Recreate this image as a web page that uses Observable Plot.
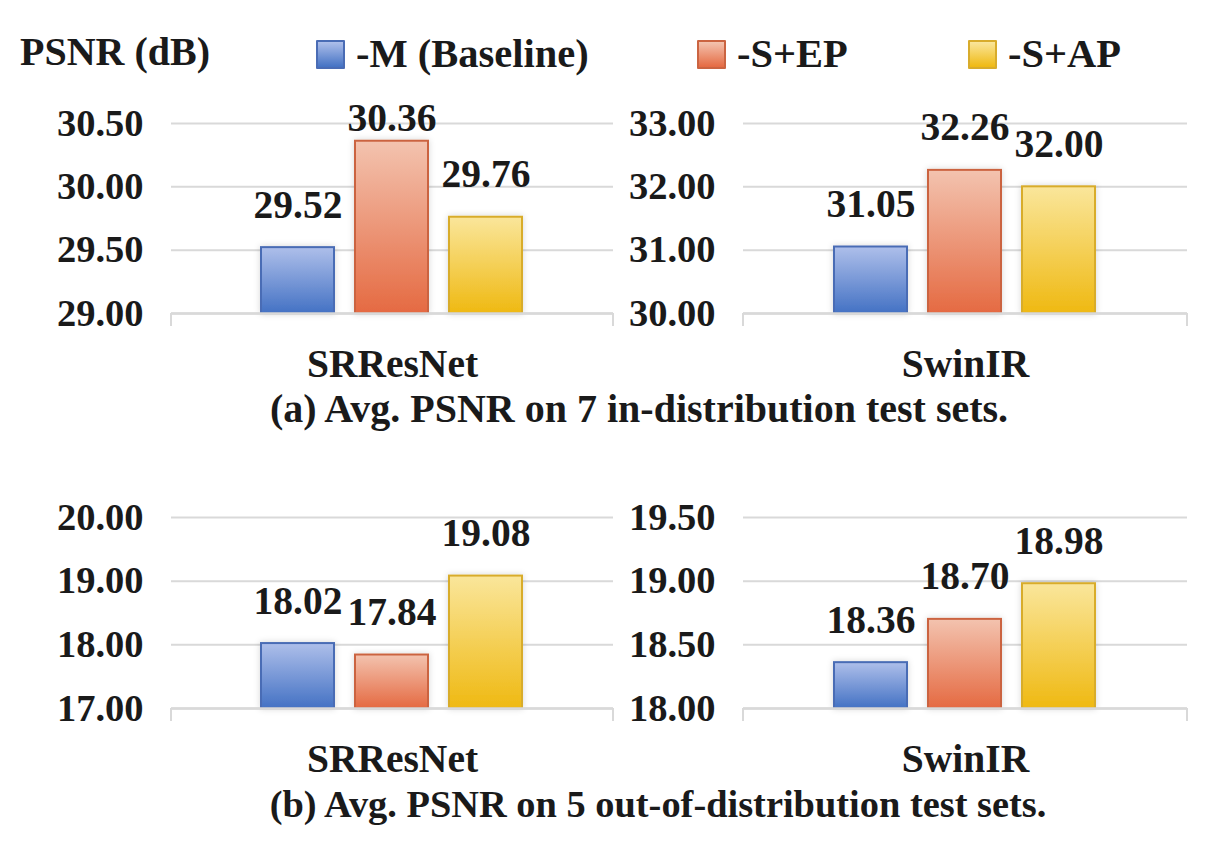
<!DOCTYPE html>
<html><head><meta charset="utf-8">
<script src="https://cdn.jsdelivr.net/npm/d3@7"></script>
<script src="https://cdn.jsdelivr.net/npm/@observablehq/plot@0.6"></script>
<style>
body{margin:0;background:#fff;}
#fig{position:relative;width:1209px;height:855px;overflow:hidden;font-family:"Liberation Serif","Times New Roman",serif;font-weight:bold;color:#1a1a1a;}
.abs{position:absolute;white-space:nowrap;line-height:1;}
#fig svg{overflow:visible;}
.item{position:absolute;top:34px;display:flex;align-items:center;font-size:40.5px;line-height:1;white-space:nowrap;}
.sw{width:25px;height:25px;border:2px solid;margin-right:11px;border-radius:1px;}
</style></head><body>
<svg width="0" height="0" style="position:absolute">
<defs>
<linearGradient id="grad0" x1="0" y1="0" x2="0" y2="1"><stop offset="0" stop-color="#aebfea"/><stop offset="1" stop-color="#4472c4"/></linearGradient>
<linearGradient id="grad1" x1="0" y1="0" x2="0" y2="1"><stop offset="0" stop-color="#f3c3af"/><stop offset="1" stop-color="#e56a42"/></linearGradient>
<linearGradient id="grad2" x1="0" y1="0" x2="0" y2="1"><stop offset="0" stop-color="#fae69b"/><stop offset="1" stop-color="#efb912"/></linearGradient>
<filter id="shadow" x="-30%" y="-30%" width="160%" height="160%"><feDropShadow dx="0" dy="0" stdDeviation="3" flood-color="#000" flood-opacity="0.16"/></filter>
</defs></svg>
<div id="fig"></div>
<script>
// ---- data ----
const series = ["-M (Baseline)", "-S+EP", "-S+AP"];
const models = ["SRResNet", "SwinIR"];
const srresnetIn = [29.52, 30.36, 29.76];
const swinirIn = [31.05, 32.26, 32.00];
const srresnetOut = [18.02, 17.84, 19.08];
const swinirOut = [18.36, 18.70, 18.98];
const ticksSRIn = [29.0, 29.5, 30.0, 30.5];
const ticksSwinIn = [30.0, 31.0, 32.0, 33.0];
const ticksSROut = [17.0, 18.0, 19.0, 20.0];
const ticksSwinOut = [18.0, 18.5, 19.0, 19.5];
const yAxisTitle = "PSNR (dB)";
const captions = ["(a) Avg. PSNR on 7 in-distribution test sets.", "(b) Avg. PSNR on 5 out-of-distribution test sets."];

// ---- styles ----
const fills = ["url(#grad0)", "url(#grad1)", "url(#grad2)"];
const strokes = ["#4a6cb5", "#cb6441", "#d8ac2c"];
const swatchBg = ["linear-gradient(#aebfea,#4472c4)", "linear-gradient(#f3c3af,#e56a42)", "linear-gradient(#fae69b,#efb912)"];
const legendLeft = [316, 697, 968];
const gridColor = "#d9d9d9";
const textColor = "#1a1a1a";
const fig = document.getElementById("fig");

function panel(model, values, ticks, box) {
  const data = series.map((s, i) => ({series: s, value: values[i], i}));
  const yMin = ticks[0], yMax = ticks[ticks.length - 1];
  const plotH = box.height - box.mT - box.mB;
  const labelCap = yMax - (37 / plotH) * (yMax - yMin);
  const endTicks = (index, scales, values, dims) => {
    const g = d3.create("svg:g");
    const yb = dims.height - dims.marginBottom;
    [dims.marginLeft, dims.width - dims.marginRight].forEach(x =>
      g.append("line").attr("x1", x).attr("x2", x).attr("y1", yb).attr("y2", yb + 13)
        .attr("stroke", gridColor).attr("stroke-width", 2));
    return g.node();
  };
  const chart = Plot.plot({
    width: box.width, height: box.height,
    marginLeft: box.mL, marginRight: box.mR, marginTop: box.mT, marginBottom: box.mB,
    style: {fontFamily: '"Liberation Serif","Times New Roman",serif', fontWeight: "bold", color: textColor, background: "transparent", overflow: "visible"},
    x: {domain: series, paddingInner: 0.22, paddingOuter: 0.96, axis: null},
    y: {domain: [yMin, yMax], axis: null},
    marks: [
      Plot.gridY(ticks, {stroke: gridColor, strokeWidth: 2, strokeOpacity: 1}),
      ...series.map((s, i) => Plot.barY(data.filter(d => d.i === i), {x: "series", y1: yMin, y2: "value", fill: fills[i], stroke: strokes[i], strokeWidth: 2})),
      Plot.ruleY([yMin], {stroke: gridColor, strokeWidth: 2.5}),
      endTicks,
      Plot.axisY({ticks, tickFormat: d => d.toFixed(2), tickSize: 0, tickPadding: 28, fontSize: 38.5, label: null}),
      Plot.text(data, {x: "series", y: d => Math.min(d.value, labelCap), text: d => d.value.toFixed(2), dy: -30, lineAnchor: "bottom", fontSize: 39.5, fill: textColor}),
      Plot.text([model], {frameAnchor: "bottom", text: d => d, dy: 35, lineAnchor: "top", fontSize: 39.5, fill: textColor})
    ]
  });
  chart.querySelectorAll('g[aria-label="bar"] rect').forEach(r => r.setAttribute("filter", "url(#shadow)"));
  const wrap = document.createElement("div");
  wrap.className = "abs";
  wrap.style.left = box.left + "px";
  wrap.style.top = box.top + "px";
  wrap.appendChild(chart);
  fig.appendChild(wrap);
}

const L = {width: 620, mL: 171, mR: 7, left: 0};
const R = {width: 589, mL: 123, mR: 22, left: 620};
panel(models[0], srresnetIn, ticksSRIn, {...L, top: 100, height: 293, mT: 23, mB: 80});
panel(models[1], swinirIn, ticksSwinIn, {...R, top: 100, height: 293, mT: 23, mB: 80});
panel(models[0], srresnetOut, ticksSROut, {...L, top: 494, height: 294, mT: 23, mB: 80});
panel(models[1], swinirOut, ticksSwinOut, {...R, top: 494, height: 294, mT: 23, mB: 80});

// y-axis title
const t = document.createElement("div");
t.className = "abs"; t.style.left = "20px"; t.style.top = "32px"; t.style.fontSize = "40px";
t.textContent = yAxisTitle; fig.appendChild(t);

// legend
series.forEach((s, i) => {
  const it = document.createElement("div"); it.className = "item";
  it.style.left = legendLeft[i] + "px";
  const sw = document.createElement("div"); sw.className = "sw";
  sw.style.background = swatchBg[i]; sw.style.borderColor = strokes[i];
  const tx = document.createElement("span"); tx.textContent = s;
  it.appendChild(sw); it.appendChild(tx); fig.appendChild(it);
});

// captions
[[639, 389, 40], [658, 785, 38.4]].forEach(([cx, top, fs], i) => {
  const c = document.createElement("div");
  c.className = "abs"; c.style.left = cx + "px"; c.style.top = top + "px";
  c.style.transform = "translateX(-50%)"; c.style.fontSize = fs + "px";
  c.textContent = captions[i]; fig.appendChild(c);
});
</script>
</body></html>
